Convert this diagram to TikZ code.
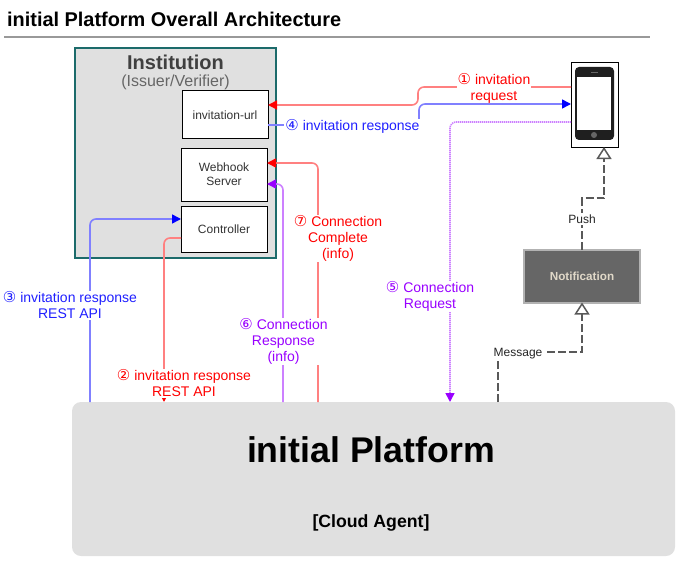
\documentclass[tikz,border=0pt]{standalone}
\usepackage{fontspec}
\usepackage{xcolor}
\setmainfont{Liberation Sans}
\newfontfamily\symfont{DejaVu Sans}
\usetikzlibrary{arrows.meta}
\definecolor{redline}{HTML}{FF8080}
\definecolor{blueline}{HTML}{8080FF}
\definecolor{purpleline}{HTML}{CC80FF}
\definecolor{purpletext}{HTML}{9900FF}
\definecolor{bluetext}{HTML}{2020FF}
\definecolor{panel}{HTML}{E0E0E0}
\definecolor{teal2}{HTML}{1C6B6B}
\definecolor{notiftext}{HTML}{E0D8C8}
\newcommand{\num}[1]{\smash{\symfont\fontsize{15}{16}\selectfont #1}}

\begin{document}
\begin{tikzpicture}[
    x=1pt, y=-1pt,
    box/.style={rectangle, draw=black, fill=white, line width=1pt, outer sep=0pt, inner sep=0pt, align=center, text=black!80, font=\fontsize{12}{14}\selectfont},
    lbl/.style={fill=white, inner sep=1pt, align=center, font=\fontsize{14}{16}\selectfont},
    msg/.style={fill=white, inner sep=1.5pt, text=black!85, font=\fontsize{12}{14}\selectfont},
    redarrow/.style={redline, line width=1.6pt, rounded corners=6pt, -{Triangle[color=red, length=9pt, width=9pt]}},
    bluearrow/.style={blueline, line width=1.6pt, rounded corners=6pt, -{Triangle[color=blue, length=9pt, width=9pt]}},
    purplearrow/.style={purpleline, line width=1.6pt, rounded corners=6pt, -{Triangle[color=purpletext, length=9pt, width=9pt]}},
    openarrow/.style={black!65, line width=1.5pt, dash pattern=on 8pt off 3pt, -{Triangle[length=12pt, width=15pt, fill=white]}}
]
    \useasboundingbox (0,0) rectangle (693,575);

    % Title
    \node[anchor=base west, inner sep=0pt, font=\bfseries\fontsize{19.9}{24}\selectfont] (title) at (7,27) {initial Platform Overall Architecture};
    \coordinate (ruleleft) at (4,37);
    \coordinate (ruleright) at (650,37);
    \draw[black!40, line width=2pt] (ruleleft) -- (ruleright);

    % Institution
    \node[draw=teal2, fill=panel, line width=2pt, minimum width=201pt, minimum height=210pt, outer sep=0pt] (inst) at (175.5,153) {};
    \node[text=black!75, anchor=base, inner sep=0pt, font=\bfseries\fontsize{20}{20}\selectfont] (insttitle) at (175.5,70) {Institution};
    \node[text=black!60, anchor=base, inner sep=0pt, font=\fontsize{16}{16}\selectfont] (instsub) at (175.5,87) {(Issuer/Verifier)};
    \node[box, minimum width=86pt, minimum height=48pt] (url) at (225,115) {invitation-url};
    \node[box, minimum width=86pt, minimum height=53pt] (webhook) at (224,174.5) {Webhook\\Server};
    \node[box, minimum width=86pt, minimum height=46pt] (ctrl) at (224,229) {Controller};

    % Platform
    \node[fill=panel, rounded corners=9pt, minimum width=603pt, minimum height=154pt, outer sep=0pt] (platform) at (373.5,479) {};
    \node[inner sep=0pt, font=\bfseries\fontsize{35.7}{40}\selectfont] (platformname) at (371,450) {initial Platform};
    \node[inner sep=0pt, font=\bfseries\fontsize{17.7}{20}\selectfont] (cloud) at (371,522.5) {[Cloud Agent]};

    % Phone
    \node[draw=black, fill=white, line width=1pt, minimum width=47pt, minimum height=84pt, outer sep=0pt] (phone) at (594.5,105) {};
    \node[fill=black!88, rounded corners=4pt, minimum width=39pt, minimum height=73pt] (body) at (594.5,103.5) {};
    \node[fill=white, minimum width=34pt, minimum height=53pt] (screen) at (594,103.5) {};
    \node[fill=black!60, circle, inner sep=0pt, minimum size=6pt] (homekey) at (594,135) {};
    \node[fill=black!60, inner sep=0pt, minimum width=7pt, minimum height=1pt] (speaker) at (594,73) {};

    % Notification
    \node[draw=black!30, fill=black!60, line width=2pt, minimum width=116pt, minimum height=53pt, outer sep=0pt, text=notiftext, font=\bfseries\fontsize{11.7}{14}\selectfont] (notif) at (582,276) {Notification};

    % Arrows
    \draw[redarrow] (phone.west |- 0,87) -- (418,87) -- (418,105) -- (url.east |- 0,105);
    \draw[purplearrow, dash pattern=on 1.2pt off 0.8pt] (phone.west |- 0,122) -- (450,122) -- (450,402);
    \draw[redarrow] (ctrl.west |- 0,238) -- (164,238) -- (164,402);
    \draw[bluearrow] (90,402) -- (90,219) -- (ctrl.west |- 0,219);
    \draw[purplearrow] (283,402) -- (283,184) -- (webhook.east |- 0,184);
    \draw[redarrow] (318,402) -- (318,163) -- (webhook.east |- 0,163);
    \draw[openarrow] (498,402) -- (498,352) -- (582,352) -- (notif.south);
    \draw[openarrow] (notif.north) -- (582,198) -- (604,198) -- (phone.south -| 604,0);

    % Labels
    \node[lbl, text=red] (step1) at (494,88.5) {\num{①} invitation\\request};
    \node[lbl, text=purpletext] (step5) at (430,296.5) {\num{⑤} Connection\\Request};
    \node[lbl, text=red] (step2) at (184,383.5) {\num{②} invitation response\\REST API};
    \node[lbl, text=bluetext] (step3) at (70,305.5) {\num{③} invitation response\\REST API};
    \node[lbl, text=purpletext] (step6) at (283.5,341.5) {\num{⑥} Connection\\Response\\(info)};
    \node[lbl, text=red] (step7) at (338,238.5) {\num{⑦} Connection\\Complete\\(info)};
    \node[msg] (push) at (582,219) {Push};
    \node[msg] (message) at (518,354) {Message};

    % This one runs just under the first label
    \draw[bluearrow] (url.east |- 0,125) -- (419,125) -- (419,104) -- (phone.west |- 0,104);
    \node[lbl, text=bluetext] (step4) at (352.5,126.5) {\num{④} invitation response};
\end{tikzpicture}
\end{document}
